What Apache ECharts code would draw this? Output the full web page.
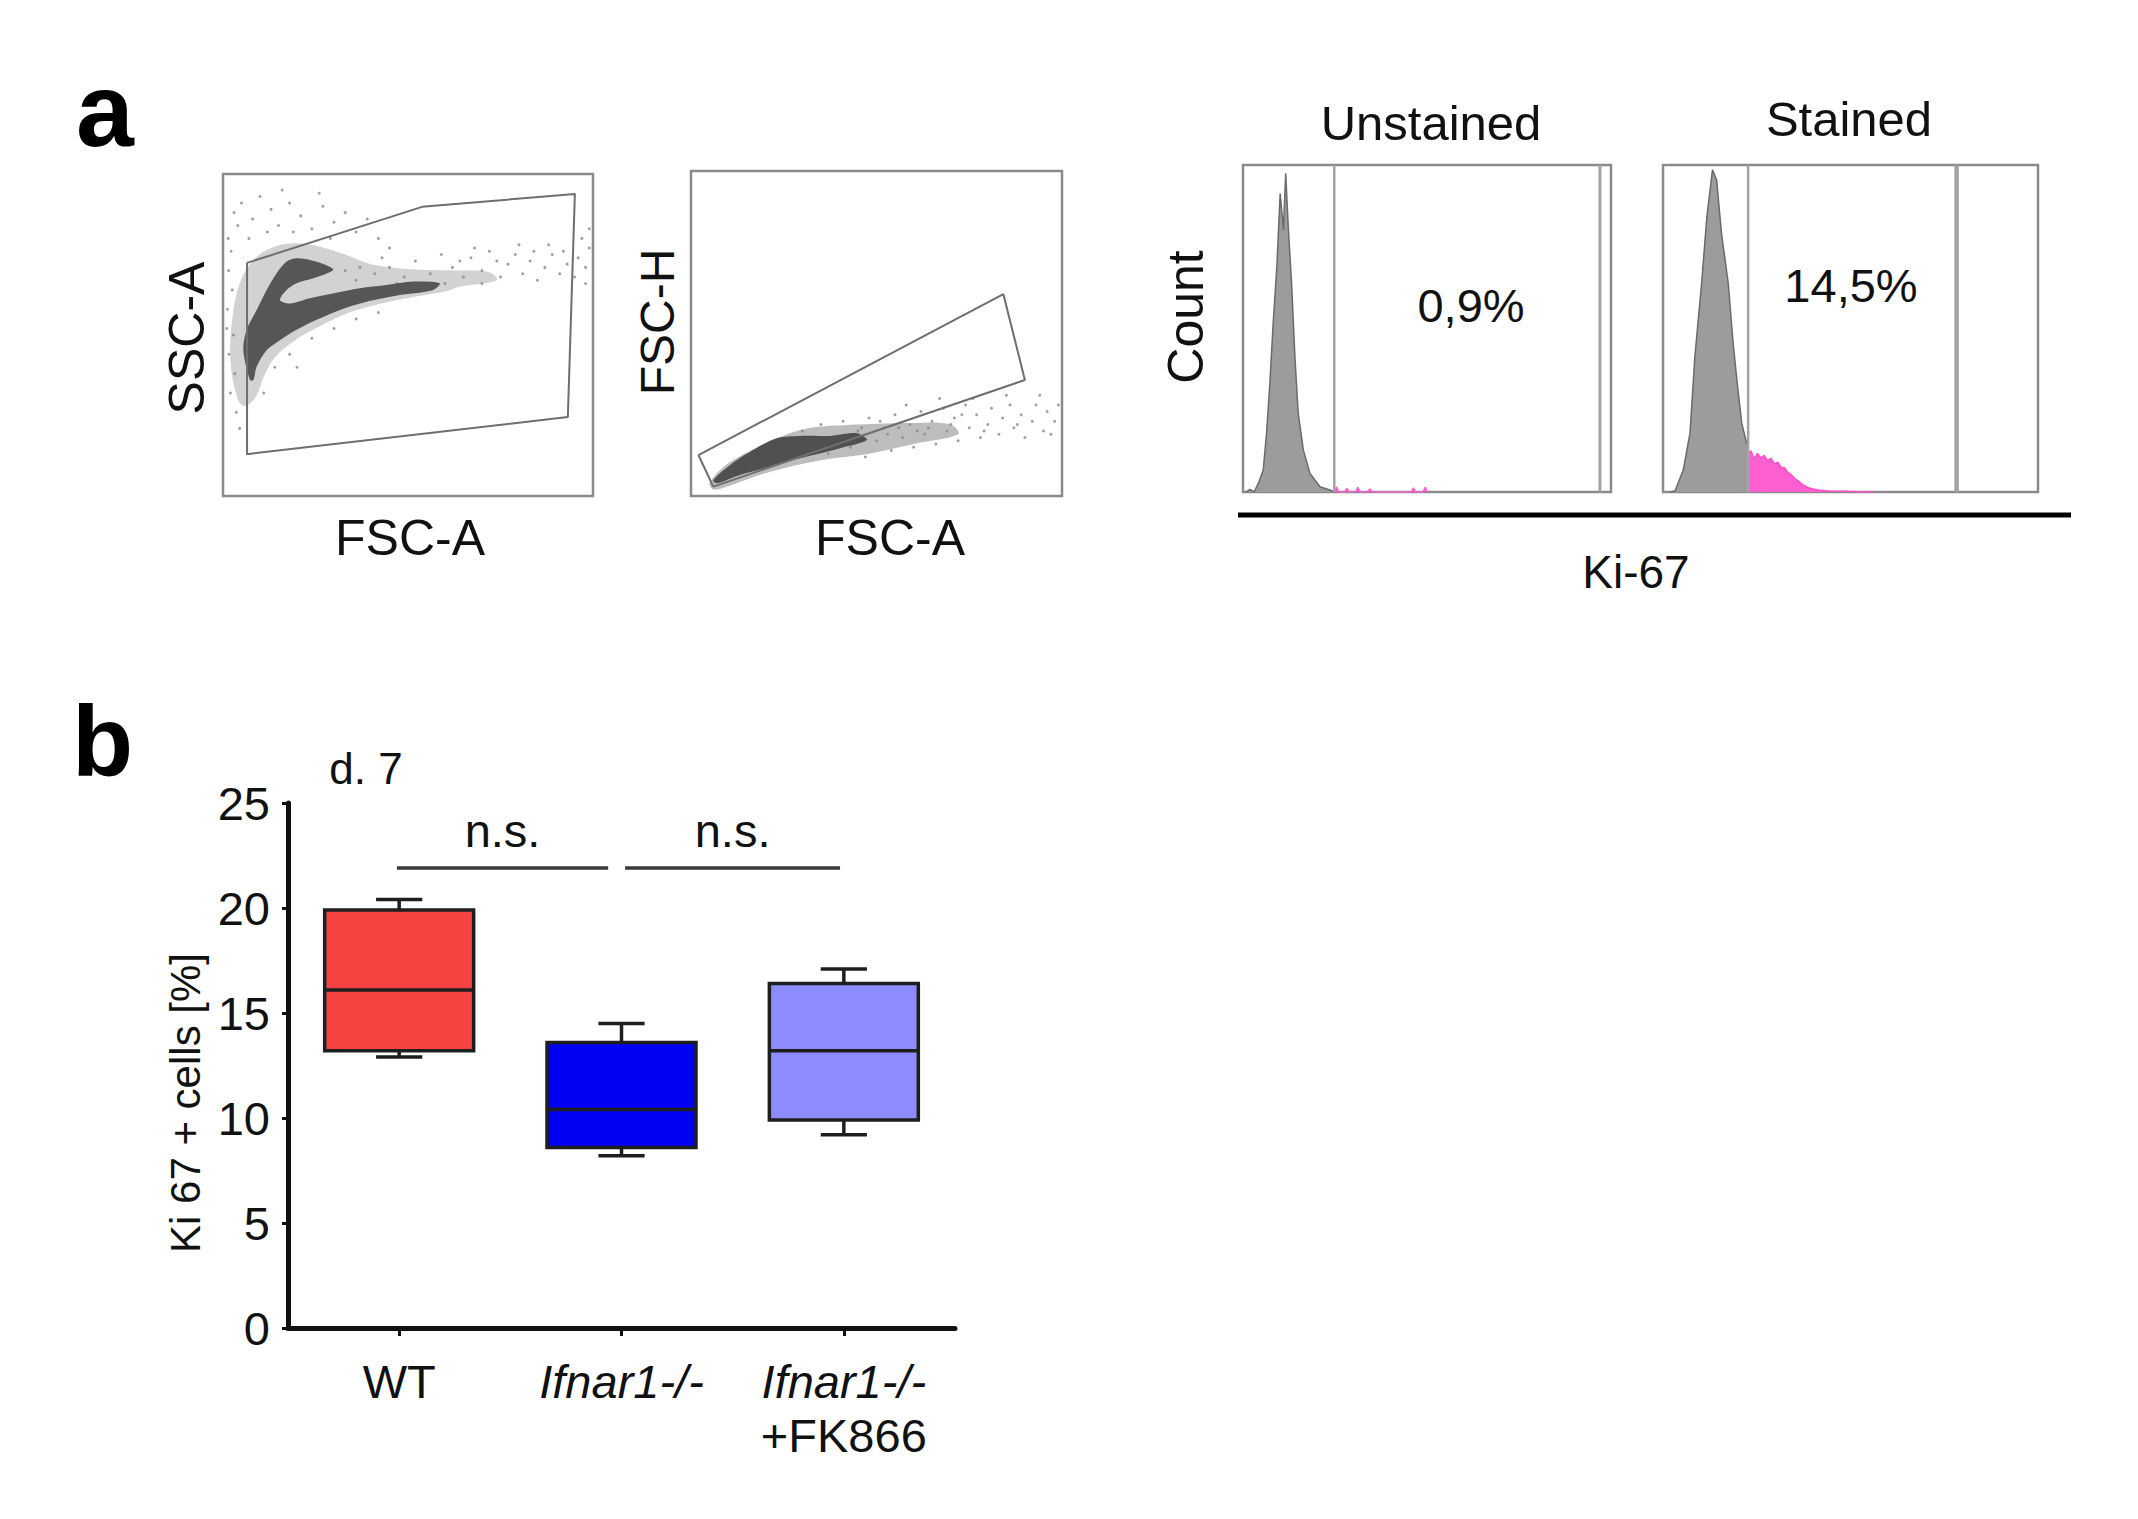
<!DOCTYPE html>
<html><head><meta charset="utf-8">
<script src="https://cdn.jsdelivr.net/npm/echarts@6/dist/echarts.min.js"></script>
<style>html,body{margin:0;padding:0;background:#fff}#c{width:2138px;height:1519px}</style>
</head><body><div id="c"></div>
<script>
const FONT = '"Liberation Sans", Arial, Helvetica, sans-serif';
const TXT = '#111';

// ---------- panel a, plot 1: FSC-A (x) vs SSC-A (y), axis units 0-100 ----------
const gate1 = [[6.5,72.4],[53.8,89.8],[95.1,93.8],[93.2,24.5],[6.5,13.0],[6.5,72.4]];
const core1 = [[7.3,36.0],[5.5,45.3],[6.4,51.6],[9.1,57.8],[11.8,64.0],[14.5,69.2],[17.2,72.8],[19.9,73.8],[23.5,73.3],[28.0,71.7],[29.8,70.2],[24.4,67.6],[19.9,66.1],[17.2,64.0],[15.4,60.9],[18.1,59.8],[23.5,61.4],[29.8,62.9],[37.0,64.5],[44.2,65.5],[51.4,66.6],[58.6,66.1],[56.8,64.0],[47.8,62.4],[38.8,60.3],[31.6,57.8],[25.3,54.7],[19.9,51.6],[15.4,48.4],[11.8,45.3],[9.1,40.2],[8.2,36.0]];
const halo1 = [[4,30],[2,42],[2.5,55],[4.5,66],[8,73],[13,77],[19,78.5],[26,77.5],[33,75],[40,72],[50,70.5],[62,70],[72,69.5],[74,67],[64,65],[60,63.5],[50,61.5],[40,59],[32,56],[25,52],[19,48],[14,43],[11,37],[9,31],[6,28]];
const dots1 = [[3,88],[5,91],[8,86],[10,93],[13,89],[15,84],[18,91],[21,87],[24,83],[27,90],[30,85],[33,88],[36,82],[39,86],[7,80],[12,82],[19,82],[29,80],[4,84],[42,80],[45,77],[16,95],[26,94],
  [1.5,70],[2.5,64],[1.2,58],[2.8,50],[1.6,44],[3.2,38],[2,32],[3.6,26],[1,52],[4.5,21],[2.2,76],[1.4,80],
  [52,73],[56,69],[59,75],[62,71],[65,68],[67,74],[70,70],[72,76],[75,68],[77,72],[79,75],[81,69],[83,73],[85,67],[87,71],[89,75],[91,69],[93,72],[95,68],[96,74],[98,71],[99,77],[97,80],[99,83],[98,66],[88,78],[80,78],[70,66],[60,66],[84,76],[92,76],[74,73],[64,73],[68,77],
  [33,70],[37,71],[41,69],[45,71],[49,68],[36,67],[43,74],[47,66],
  [14,40],[18,44],[24,49],[30,52],[36,55],[42,57],[11,32],[20,40]];

// ---------- panel a, plot 2: FSC-A (x) vs FSC-H (y) ----------
const gate2 = [[2.0,12.6],[84.2,62.1],[90.0,35.7],[6.0,2.9],[2.0,12.6]];
const core2 = [[6.0,4.9],[10.5,9.5],[16.8,14.2],[23.1,17.8],[29.4,18.5],[37.5,18.5],[44.7,19.3],[47.4,17.2],[40.2,14.7],[33.0,12.6],[25.8,10.6],[19.5,8.5],[13.2,6.5],[6.9,3.9]];
const halo2 = [[5,4],[10,10],[20,16],[30,20.5],[45,22],[60,22.5],[70,22],[72,19],[60,16],[48,13],[35,11],[20,7],[10,3],[6,2]];
const dots2 = [[30,20],[33,16],[35,22],[37,13],[39,18],[41,23],[43,15],[45,20],[47,12],[48,24],[50,17],[52,21],[54,14],[55,25],[57,18],[59,22],[60,15],[62,26],[63,19],[65,23],[66,16],[68,27],[69,20],[71,24],[72,17],[74,28],[75,21],[77,25],[78,18],[80,22],[81,27],[83,19],[84,24],[86,28],[87,21],[89,25],[90,18],[92,23],[93,28],[95,20],[96,26],[98,23],[99,28],[76,30],[85,31],[94,31],[58,28],[67,30],[53,19],[61,20],[70,22],[79,20],[88,22],[97,19],[44,18],[46,21],[51,23],[56,21],[64,21],[73,25]];

// ---------- panel a, Ki-67 histograms (x 0-100, count 0-100) ----------
const histUnstainedGray = [[1,0],[1.8,0.8],[2.6,0.3],[3,0],[4.2,2.7],[5.5,6.7],[6.4,18],[7.3,33.2],[8.2,51.6],[9.2,68.9],[10.1,91.3],[11.0,80.1],[11.6,97.5],[12.3,81.1],[13.2,63.8],[14.1,41.4],[15.0,24.1],[16.4,12.8],[18.2,5.7],[20.9,1.6],[23.6,0.6],[24.8,0]];
const histUnstainedPink = [[25,0],[25.4,1.6],[26,0],[27.6,0],[28.2,1.1],[28.8,0],[30.6,0],[31.2,1.4],[31.8,0],[33.8,0],[34.5,0.9],[35.1,0],[45.7,0],[46.3,1.3],[46.9,0],[48.9,0],[49.5,1.4],[50.1,0]];
const histStainedGray = [[2,0],[3.2,0.3],[5.4,6.7],[7.2,18],[8.5,41.4],[10.3,63.8],[11.7,84.2],[13.2,98.5],[14.3,95.4],[15.6,79.1],[17.4,63.8],[18.7,45.5],[19.8,33.2],[21.0,21.0],[22.3,14.9],[22.7,14.5],[22.7,0]];
const histStainedPink = [[22.7,0],[22.7,12],[23.5,12.5],[24.3,10],[25.2,11.8],[26.1,10.4],[27,11.2],[27.9,9.6],[28.8,10.3],[29.7,8.6],[30.6,9.1],[31.5,7.6],[32.4,7.4],[33.3,6],[34.2,5.3],[35.1,4.1],[36,3.5],[37,2.4],[38,1.8],[39,1.2],[40,0.9],[42,0.5],[44,0.3],[48,0.2],[52,0.1],[56,0]];
const gatesUnstained = [24.8, 97.0];
const gatesStained = [22.7, 78.3];
const pctUnstained = '0,9%';
const pctStained = '14,5%';

// ---------- panel b: box plot ----------
const categories = ['WT', 'Ifnar1-/-', 'Ifnar1-/-\n+FK866'];
const boxMin    = [12.9, 8.2, 9.2];
const boxQ1     = [13.2, 8.6, 9.9];
const boxMedian = [16.1, 10.4, 13.2];
const boxQ3     = [19.9, 13.6, 16.4];
const boxMax    = [20.4, 14.5, 17.1];
const boxColors = ['#f74242', '#0000f5', '#8c8cff'];
const yMin = 0, yMax = 25, yStep = 5;
const sigFrom = [-0.01, 1.016];
const sigTo   = [0.94, 1.983];
const sigY    = [21.9, 21.9];
const sigText = ['n.s.', 'n.s.'];

const chart = echarts.init(document.getElementById('c'), null, {renderer: 'svg'});

function hidAxis(gi, extra) {
  return Object.assign({type: 'value', gridIndex: gi, min: 0, max: 100, show: false}, extra || {});
}
function polySeries(pts, idx, color, z, smooth) {
  return {type: 'custom', xAxisIndex: idx, yAxisIndex: idx, data: [[pts[0][0], pts[0][1]]], z: z, silent: true,
    renderItem: function (params, api) {
      return {type: 'polygon', shape: {points: pts.map(function (p) { return api.coord(p); }), smooth: smooth || 0},
        style: {fill: color}};
    }};
}
function lineSeries(pts, idx, color, width, z) {
  return {type: 'line', xAxisIndex: idx, yAxisIndex: idx, data: pts, symbol: 'none', z: z, silent: true,
    lineStyle: {color: color, width: width}};
}
function histSeries(pts, idx, fill, stroke, z) {
  return {type: 'line', xAxisIndex: idx, yAxisIndex: idx, data: pts, symbol: 'none', z: z, silent: true,
    lineStyle: {color: stroke, width: 1.5}, areaStyle: {color: fill, opacity: 1, origin: 'start'}};
}
function gateLines(xs, idx, widths) {
  return xs.map(function (x, k) {
    return lineSeries([[x, 0], [x, 100]], idx, '#a3a3a3', widths[k], 5);
  });
}

const boxData = categories.map(function (c, i) { return [i, boxMin[i], boxQ1[i], boxMedian[i], boxQ3[i], boxMax[i]]; });
const sigData = sigFrom.map(function (f, i) { return [f, sigTo[i], sigY[i]]; });

function catLabel(v) {
  return v.split('\n').map(function (l) { return l.indexOf('Ifnar') === 0 ? '{i|' + l + '}' : '{n|' + l + '}'; }).join('\n');
}

const gridBorder = {show: true, borderColor: '#8a8a8a', borderWidth: 2.5, backgroundColor: 'transparent'};

const option = {
  animation: false,
  backgroundColor: '#fff',
  grid: [
    Object.assign({left: 223, top: 174, width: 370, height: 322}, gridBorder),
    Object.assign({left: 691, top: 171, width: 371, height: 325}, gridBorder),
    Object.assign({left: 1243, top: 165, width: 368, height: 327}, gridBorder),
    Object.assign({left: 1663, top: 165, width: 375, height: 327}, gridBorder),
    {left: 288, top: 803, width: 667, height: 525, show: false}
  ],
  xAxis: [
    hidAxis(0), hidAxis(1), hidAxis(2), hidAxis(3),
    {type: 'category', gridIndex: 4, data: categories, boundaryGap: true,
      axisLine: {show: true, onZero: false, lineStyle: {color: TXT, width: 5}},
      axisTick: {show: true, alignWithLabel: true, length: 8, lineStyle: {color: TXT, width: 3}},
      axisLabel: {margin: 26, formatter: catLabel, rich: {
        n: {fontFamily: FONT, fontSize: 47, color: TXT, lineHeight: 54},
        i: {fontFamily: FONT, fontSize: 47, color: TXT, lineHeight: 54, fontStyle: 'italic'}}},
      splitLine: {show: false}},
    {type: 'value', gridIndex: 4, min: -0.5, max: 2.5, show: false}
  ],
  yAxis: [
    hidAxis(0), hidAxis(1), hidAxis(2), hidAxis(3),
    {type: 'value', gridIndex: 4, min: yMin, max: yMax, interval: yStep,
      axisLine: {show: true, onZero: false, lineStyle: {color: TXT, width: 5}},
      axisTick: {show: true, length: 6, lineStyle: {color: TXT, width: 3}},
      axisLabel: {margin: 18, fontFamily: FONT, fontSize: 47, color: TXT},
      splitLine: {show: false}}
  ],
  series: [
    // scatter 1
    polySeries(halo1, 0, '#d2d2d2', 2, 0.35),
    {type: 'scatter', xAxisIndex: 0, yAxisIndex: 0, data: dots1, symbolSize: 3, z: 3, silent: true,
      itemStyle: {color: '#8a8a8a', opacity: 0.8}},
    polySeries(core1, 0, '#565656', 4, 0.3),
    lineSeries(gate1, 0, '#6e6e6e', 2, 6),
    // scatter 2
    polySeries(halo2, 1, '#bdbdbd', 2, 0.35),
    {type: 'scatter', xAxisIndex: 1, yAxisIndex: 1, data: dots2, symbolSize: 3, z: 3, silent: true,
      itemStyle: {color: '#8a8a8a', opacity: 0.8}},
    polySeries(core2, 1, '#505050', 4, 0.3),
    lineSeries(gate2, 1, '#6e6e6e', 2, 6),
    // histograms
    histSeries(histUnstainedGray, 2, '#9c9c9c', '#6a6a6a', 3),
    histSeries(histUnstainedPink, 2, '#ff5fcf', '#ff5fcf', 3)
  ].concat(gateLines(gatesUnstained, 2, [2.5, 3])).concat([
    histSeries(histStainedGray, 3, '#9c9c9c', '#6a6a6a', 3),
    histSeries(histStainedPink, 3, '#ff5fcf', '#ff4fc8', 3)
  ]).concat(gateLines(gatesStained, 3, [2.5, 4.5])).concat([
    // box plot
    {type: 'custom', xAxisIndex: 4, yAxisIndex: 4, data: boxData, z: 5, silent: true,
      encode: {x: 0, y: [1, 2, 3, 4, 5]},
      renderItem: function (params, api) {
        const i = api.value(0);
        const pMin = api.coord([i, api.value(1)]);
        const pQ1 = api.coord([i, api.value(2)]);
        const pMed = api.coord([i, api.value(3)]);
        const pQ3 = api.coord([i, api.value(4)]);
        const pMax = api.coord([i, api.value(5)]);
        const bw = api.size([1, 0])[0] * 0.67;
        const h = bw / 2, cap = bw * 0.155;
        const st = {stroke: '#1e1e1e', lineWidth: 3.5};
        return {type: 'group', children: [
          {type: 'line', shape: {x1: pMin[0], y1: pMin[1], x2: pQ1[0], y2: pQ1[1]}, style: st},
          {type: 'line', shape: {x1: pQ3[0], y1: pQ3[1], x2: pMax[0], y2: pMax[1]}, style: st},
          {type: 'line', shape: {x1: pMin[0] - cap, y1: pMin[1], x2: pMin[0] + cap, y2: pMin[1]}, style: st},
          {type: 'line', shape: {x1: pMax[0] - cap, y1: pMax[1], x2: pMax[0] + cap, y2: pMax[1]}, style: st},
          {type: 'rect', shape: {x: pQ3[0] - h, y: pQ3[1], width: bw, height: pQ1[1] - pQ3[1]},
            style: {fill: boxColors[params.dataIndex], stroke: '#1e1e1e', lineWidth: 3.5}},
          {type: 'line', shape: {x1: pMed[0] - h, y1: pMed[1], x2: pMed[0] + h, y2: pMed[1]}, style: st}
        ]};
      }},
    // significance bars
    {type: 'custom', xAxisIndex: 5, yAxisIndex: 4, data: sigData, z: 5, silent: true,
      encode: {x: [0, 1], y: 2},
      renderItem: function (params, api) {
        const a = api.coord([api.value(0), api.value(2)]);
        const b = api.coord([api.value(1), api.value(2)]);
        return {type: 'group', children: [
          {type: 'line', shape: {x1: a[0], y1: a[1], x2: b[0], y2: b[1]}, style: {stroke: '#3a3a3a', lineWidth: 3.5}},
          {type: 'text', x: (a[0] + b[0]) / 2, y: a[1] - 14,
            style: {text: sigText[params.dataIndex], fontFamily: FONT, fontSize: 47, fill: TXT, textAlign: 'center', textVerticalAlign: 'bottom'}}
        ]};
      }}
  ]),
  graphic: [
    {type: 'text', x: 76, y: 110, style: {text: 'a', fontFamily: FONT, fontSize: 104, fontWeight: 'bold', fill: '#000', textAlign: 'left', textVerticalAlign: 'middle'}},
    {type: 'text', x: 72, y: 741, style: {text: 'b', fontFamily: FONT, fontSize: 100, fontWeight: 'bold', fill: '#000', textAlign: 'left', textVerticalAlign: 'middle'}},
    {type: 'text', x: 187, y: 338, rotation: Math.PI / 2, style: {text: 'SSC-A', fontFamily: FONT, fontSize: 50, fill: TXT, textAlign: 'center', textVerticalAlign: 'middle'}},
    {type: 'text', x: 657, y: 322, rotation: Math.PI / 2, style: {text: 'FSC-H', fontFamily: FONT, fontSize: 48, fill: TXT, textAlign: 'center', textVerticalAlign: 'middle'}},
    {type: 'text', x: 410, y: 538, style: {text: 'FSC-A', fontFamily: FONT, fontSize: 50, fill: TXT, textAlign: 'center', textVerticalAlign: 'middle'}},
    {type: 'text', x: 890, y: 538, style: {text: 'FSC-A', fontFamily: FONT, fontSize: 50, fill: TXT, textAlign: 'center', textVerticalAlign: 'middle'}},
    {type: 'text', x: 1431, y: 123, style: {text: 'Unstained', fontFamily: FONT, fontSize: 49, fill: TXT, textAlign: 'center', textVerticalAlign: 'middle'}},
    {type: 'text', x: 1849, y: 119, style: {text: 'Stained', fontFamily: FONT, fontSize: 49, fill: TXT, textAlign: 'center', textVerticalAlign: 'middle'}},
    {type: 'text', x: 1186, y: 317, rotation: Math.PI / 2, style: {text: 'Count', fontFamily: FONT, fontSize: 50, fill: TXT, textAlign: 'center', textVerticalAlign: 'middle'}},
    {type: 'text', x: 1471, y: 305, style: {text: pctUnstained, fontFamily: FONT, fontSize: 47, fill: TXT, textAlign: 'center', textVerticalAlign: 'middle'}},
    {type: 'text', x: 1851, y: 285, style: {text: pctStained, fontFamily: FONT, fontSize: 47, fill: TXT, textAlign: 'center', textVerticalAlign: 'middle'}},
    {type: 'line', shape: {x1: 1238, y1: 515, x2: 2071, y2: 515}, style: {stroke: '#000', lineWidth: 5}},
    {type: 'text', x: 1636, y: 572, style: {text: 'Ki-67', fontFamily: FONT, fontSize: 46, fill: TXT, textAlign: 'center', textVerticalAlign: 'middle'}},
    {type: 'text', x: 366, y: 768, style: {text: 'd. 7', fontFamily: FONT, fontSize: 44, fill: TXT, textAlign: 'center', textVerticalAlign: 'middle'}},
    {type: 'text', x: 185, y: 1103, rotation: Math.PI / 2, style: {text: 'Ki 67 + cells [%]', fontFamily: FONT, fontSize: 42, fill: TXT, textAlign: 'center', textVerticalAlign: 'middle'}}
  ]
};
chart.setOption(option);
</script></body></html>
